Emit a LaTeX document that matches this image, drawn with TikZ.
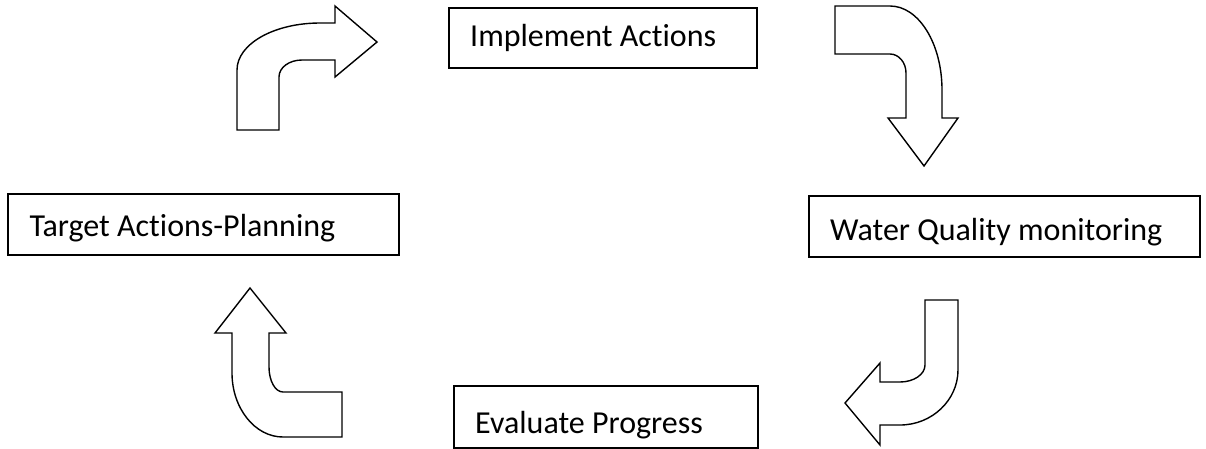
\documentclass[tikz,border=0pt]{standalone}
\usepackage{fontspec}
\setmainfont[Ligatures={NoCommon}]{Carlito}
\begin{document}
\begin{tikzpicture}[x=1pt,y=-1pt,
  box/.style={draw=black,line width=1.8pt,rectangle,inner sep=0pt,anchor=north west},
  lbl/.style={anchor=base west,inner sep=0pt,font=\fontsize{32}{36}\selectfont},
  bent/.style={draw=black,line width=1.4pt,line join=miter,fill=white}]
\useasboundingbox (0,0) rectangle (1206,448);
% boxes
\node[box,minimum width=308pt,minimum height=60pt] (impl) at (448,6.7) {};
\node[lbl] (implt) at (470,46.7) {Implement Actions};
\node[box,minimum width=391.6pt,minimum height=61pt] (target) at (6.7,193.3) {};
\node[lbl] (targett) at (29.3,236.7) {Target Actions-Planning};
\node[box,minimum width=391pt,minimum height=60.7pt] (water) at (808.3,195) {};
\node[lbl] (watert) at (830,240) {Water Quality monitoring};
\node[box,minimum width=303.4pt,minimum height=61.7pt] (eval) at (453.3,385) {};
\node[lbl] (evalt) at (475,433.3) {Evaluate Progress};
% bent arrows
\draw[bent] (237,130) -- (237,70) .. controls (237,44) and (274,23) .. (320,23)
  -- (335,23) -- (335,6) -- (377,42) -- (335,77) -- (335,60) -- (302,60)
  .. controls (289,60) and (279,67.6) .. (279,77) -- (279,130) -- cycle;
\draw[bent] (835,6) -- (890,6) .. controls (918.7,6) and (942,43.6) .. (942,90)
  -- (942,118) -- (958,118) -- (924,166) -- (888,118) -- (906,118) -- (906,73)
  .. controls (906,62.5) and (898.8,54) .. (890,54) -- (835,54) -- cycle;
\draw[bent] (925,300) -- (958,300) -- (958,370) .. controls (958,400) and (932,425) .. (900,425)
  -- (880,425) -- (880,445) -- (845,403) -- (880,363) -- (880,382) -- (900,382)
  .. controls (913.8,382) and (925,374.4) .. (925,365) -- cycle;
\draw[bent] (250,288) -- (286,333) -- (269,333) -- (269,367)
  .. controls (269,381) and (275.3,392) .. (283,392) -- (342,392) -- (342,437) -- (283,437)
  .. controls (254.8,437) and (232,408) .. (232,373) -- (232,333) -- (215,333) -- cycle;
\end{tikzpicture}
\end{document}
